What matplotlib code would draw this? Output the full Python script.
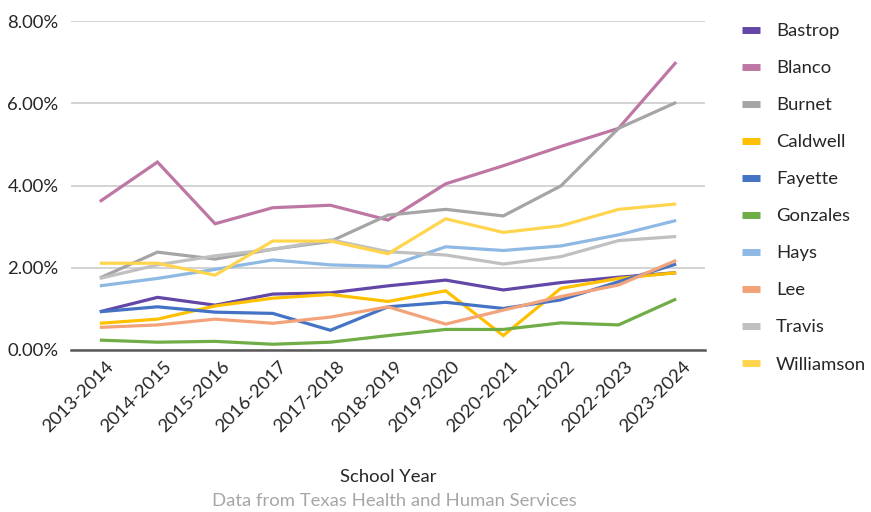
import matplotlib
matplotlib.use("Agg")
import matplotlib.pyplot as plt
from matplotlib.ticker import FuncFormatter
from matplotlib.transforms import ScaledTranslation

plt.rcParams['font.family'] = ['Lato', 'DejaVu Sans']

years = ["2013-2014", "2014-2015", "2015-2016", "2016-2017", "2017-2018", "2018-2019",
         "2019-2020", "2020-2021", "2021-2022", "2022-2023", "2023-2024"]

bastrop    = [0.93, 1.28, 1.09, 1.36, 1.39, 1.56, 1.70, 1.46, 1.64, 1.77, 1.88]
blanco     = [3.61, 4.57, 3.07, 3.46, 3.52, 3.16, 4.04, 4.48, 4.95, 5.39, 7.00]
burnet     = [1.75, 2.38, 2.21, 2.45, 2.64, 3.28, 3.42, 3.26, 3.99, 5.39, 6.02]
caldwell   = [0.65, 0.75, 1.07, 1.26, 1.35, 1.18, 1.44, 0.35, 1.50, 1.74, 1.88]
fayette    = [0.93, 1.05, 0.92, 0.89, 0.48, 1.05, 1.16, 1.01, 1.22, 1.66, 2.09]
gonzales   = [0.24, 0.19, 0.21, 0.14, 0.19, 0.35, 0.50, 0.50, 0.66, 0.61, 1.24]
hays       = [1.56, 1.74, 1.96, 2.19, 2.07, 2.03, 2.51, 2.42, 2.53, 2.80, 3.15]
lee        = [0.55, 0.61, 0.75, 0.65, 0.80, 1.05, 0.63, 0.97, 1.30, 1.58, 2.18]
travis     = [1.74, 2.07, 2.29, 2.45, 2.68, 2.39, 2.31, 2.09, 2.27, 2.66, 2.76]
williamson = [2.11, 2.11, 1.82, 2.65, 2.65, 2.34, 3.19, 2.86, 3.02, 3.42, 3.55]

series = [
    ("Bastrop", bastrop, "#6347A8"),
    ("Blanco", blanco, "#BE77A4"),
    ("Burnet", burnet, "#A5A5A5"),
    ("Caldwell", caldwell, "#FFC000"),
    ("Fayette", fayette, "#4472C4"),
    ("Gonzales", gonzales, "#70AD47"),
    ("Hays", hays, "#8DB9E4"),
    ("Lee", lee, "#F3A37A"),
    ("Travis", travis, "#C0C0C0"),
    ("Williamson", williamson, "#FFD54F"),
]

FS = 13.3
fig = plt.figure(figsize=(8.71, 5.12), dpi=100)
ax = fig.add_axes([71/871, 1-350/512, (705-71)/871, (350-21)/512])

x = list(range(len(years)))
for name, vals, col in series:
    ax.plot(x, vals, color=col, lw=2.3, label=name, solid_capstyle='butt', solid_joinstyle='miter')

ax.set_xlim(-0.5, len(years) - 0.5)
ax.set_ylim(0, 8)
ax.set_yticks([0, 2, 4, 6, 8])
ax.yaxis.set_major_formatter(FuncFormatter(lambda v, p: f"{v:.2f}%"))
ax.grid(axis='y', color='#D0D0D0', lw=1.3)
ax.set_axisbelow(True)
for s in ['top', 'right', 'left']:
    ax.spines[s].set_visible(False)
ax.spines['bottom'].set_color('#595959')
ax.spines['bottom'].set_linewidth(1.8)
ax.spines['bottom'].set_zorder(5)
ax.tick_params(axis='y', length=0, pad=9, labelsize=FS, labelcolor='#262626')
ax.tick_params(axis='x', length=0, pad=6, labelsize=FS, labelcolor='#262626')
ax.set_xticks(x)
ax.set_xticklabels(years, rotation=45, ha='right', rotation_mode='anchor')
off = ScaledTranslation(6/100, 0, fig.dpi_scale_trans)
for lbl in ax.get_xticklabels():
    lbl.set_transform(lbl.get_transform() + off)

fig.text(388/871, 1-477/512, "School Year", ha='center', va='center', fontsize=FS, color='#262626')

leg = fig.legend(loc='upper left', bbox_to_anchor=(742/871, 1-23/512), frameon=False,
                 fontsize=FS, handlelength=1.0, handletextpad=0.85, labelspacing=1.14,
                 borderaxespad=0, borderpad=0)
for h in leg.get_lines():
    h.set_linewidth(5)
for t in leg.get_texts():
    t.set_color('#262626')

fig.text(394/871, 1-501/512, "Data from Texas Health and Human Services", ha='center', va='center',
         fontsize=FS, color='#A6A6A6')

fig.savefig("out.png", dpi=100)
